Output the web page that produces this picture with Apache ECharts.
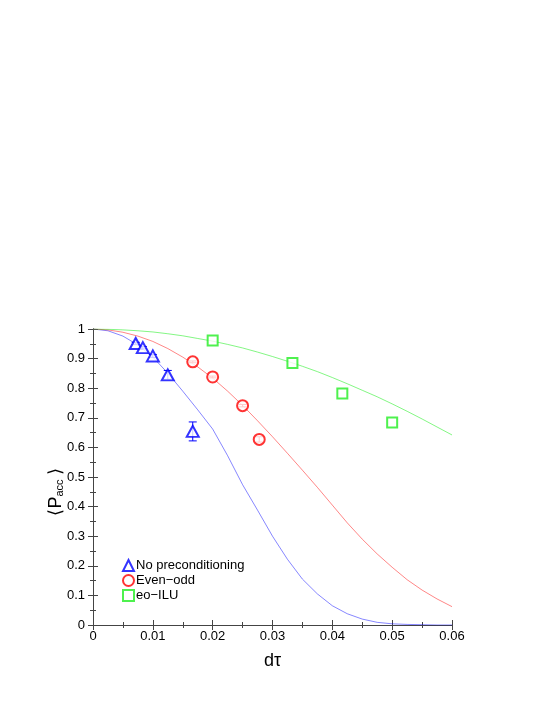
<!DOCTYPE html>
<html>
<head>
<meta charset="utf-8">
<script src="https://cdn.jsdelivr.net/npm/echarts@6/dist/echarts.min.js"></script>
<style>
html, body { margin: 0; padding: 0; background: #fff; }
#main { width: 545px; height: 705px; }
</style>
</head>
<body>
<div id="main"></div>
<script>
// measured points
var noPreX = [0.00714, 0.00833, 0.0100, 0.0125, 0.01667];
var noPreY = [0.951, 0.937, 0.909, 0.845, 0.654];
var noPreErr = [0.004, 0.004, 0.005, 0.015, 0.032];

var evenOddX = [0.01667, 0.0200, 0.0250, 0.02778];
var evenOddY = [0.889, 0.838, 0.741, 0.627];
var evenOddErr = [0.003, 0.003, 0.004, 0.009];

var iluX = [0.0200, 0.03333, 0.04167, 0.0500];
var iluY = [0.961, 0.885, 0.782, 0.684];

// fitted curves
var curveX = [0, 0.0025, 0.005, 0.0075, 0.01, 0.0125, 0.015, 0.0175, 0.02, 0.0225, 0.025, 0.0275,
              0.03, 0.0325, 0.035, 0.0375, 0.04, 0.0425, 0.045, 0.0475, 0.05, 0.0525, 0.055, 0.0575, 0.06];
var noPreCurve = [1, 0.994, 0.976, 0.946, 0.905, 0.851, 0.790, 0.727, 0.662, 0.572, 0.474, 0.388,
                  0.300, 0.222, 0.155, 0.105, 0.065, 0.038, 0.020, 0.009, 0.004, 0.002, 0.001, 0, 0];
var evenOddCurve = [1, 0.997, 0.989, 0.976, 0.958, 0.934, 0.905, 0.872, 0.834, 0.790, 0.742, 0.690,
                    0.636, 0.580, 0.523, 0.465, 0.405, 0.345, 0.290, 0.240, 0.195, 0.153, 0.118, 0.088, 0.062];
var iluCurve = [1, 0.999, 0.997, 0.994, 0.990, 0.984, 0.977, 0.968, 0.959, 0.948, 0.936, 0.922,
                0.907, 0.891, 0.874, 0.856, 0.836, 0.815, 0.793, 0.771, 0.747, 0.722, 0.696, 0.669, 0.642];

var names = ['No preconditioning', 'Even\u2212odd', 'eo\u2212ILU'];
var colors = ['#0000ff', '#ff0000', '#22ee22'];
var font = 'Liberation Sans, Arial, Helvetica, sans-serif';

function pairs(xs, ys) {
    var out = [];
    for (var i = 0; i < xs.length; i++) out.push([xs[i], ys[i]]);
    return out;
}
function errs(xs, ys, es) {
    var out = [];
    for (var i = 0; i < xs.length; i++) out.push([xs[i], ys[i] - es[i], ys[i] + es[i]]);
    return out;
}
function errorBar(color) {
    return function (params, api) {
        var lo = api.coord([api.value(0), api.value(1)]);
        var hi = api.coord([api.value(0), api.value(2)]);
        var w = 4;
        var st = { stroke: color, lineWidth: 1 };
        return {
            type: 'group',
            children: [
                { type: 'line', shape: { x1: lo[0], y1: lo[1], x2: hi[0], y2: hi[1] }, style: st },
                { type: 'line', shape: { x1: lo[0] - w, y1: lo[1], x2: lo[0] + w, y2: lo[1] }, style: st },
                { type: 'line', shape: { x1: hi[0] - w, y1: hi[1], x2: hi[0] + w, y2: hi[1] }, style: st }
            ]
        };
    };
}

var myChart = echarts.init(document.getElementById('main'));

var axisLine = { lineStyle: { color: '#444', width: 1 } };
var tick = { show: true, inside: true, length: 5, lineStyle: { color: '#444' } };
var minor = { show: true, splitNumber: 2, length: 3, lineStyle: { color: '#444' } };

var option = {
    backgroundColor: '#fff',
    animation: false,
    textStyle: { fontFamily: font },
    grid: { left: 93, right: 93, top: 329, bottom: 80 },
    legend: {
        orient: 'vertical',
        left: 117,
        top: 554,
        itemWidth: 11,
        itemHeight: 11,
        itemGap: 2,
        textStyle: { fontSize: 13, color: '#000', fontFamily: font, padding: [0, 0, 0, -3] },
        data: names
    },
    xAxis: [
        {
            type: 'value', min: 0, max: 0.06, interval: 0.01,
            axisLine: axisLine, axisTick: tick, minorTick: minor,
            splitLine: { show: false },
            axisLabel: {
                fontSize: 13, color: '#000', margin: 5, fontFamily: font,
                formatter: function (v) { return v === 0 ? '0' : v.toFixed(2); }
            },
            name: 'd\u03c4', nameLocation: 'middle', nameGap: 27,
            nameTextStyle: { fontSize: 18, color: '#000', fontFamily: font }
        },
        {
            type: 'value', position: 'top', min: 0, max: 0.06, interval: 0.01,
            axisLine: axisLine, axisTick: tick, minorTick: minor,
            splitLine: { show: false }, axisLabel: { show: false }
        }
    ],
    yAxis: [
        {
            type: 'value', min: 0, max: 1, interval: 0.1,
            axisLine: axisLine, axisTick: tick, minorTick: minor,
            splitLine: { show: false },
            axisLabel: {
                fontSize: 13, color: '#000', margin: 8, fontFamily: font,
                formatter: function (v) { return String(Math.round(v * 10) / 10); }
            }
        },
        {
            type: 'value', position: 'right', min: 0, max: 1, interval: 0.1,
            axisLine: axisLine, axisTick: tick, minorTick: minor,
            splitLine: { show: false }, axisLabel: { show: false }
        }
    ],
    graphic: [
        {
            type: 'text',
            x: 56, y: 492,
            rotation: Math.PI / 2,
            style: {
                text: '\u27e8P{s|acc}\u27e9',
                fill: '#000',
                font: '18px ' + font,
                align: 'center',
                verticalAlign: 'middle',
                rich: { s: { fontSize: 11, fontFamily: font, verticalAlign: 'bottom', padding: [8, 4, 0, 0] } }
            }
        }
    ],
    series: [
        {
            name: 'curve0', type: 'line', data: pairs(curveX, noPreCurve), showSymbol: false,
            lineStyle: { color: colors[0], width: 0.8, opacity: 0.6 }, z: 1, silent: true
        },
        {
            name: 'curve1', type: 'line', data: pairs(curveX, evenOddCurve), showSymbol: false,
            lineStyle: { color: colors[1], width: 0.8, opacity: 0.6 }, z: 1, silent: true
        },
        {
            name: 'curve2', type: 'line', data: pairs(curveX, iluCurve), showSymbol: false,
            lineStyle: { color: colors[2], width: 0.8, opacity: 0.7 }, z: 1, silent: true
        },
        {
            type: 'custom', data: errs(noPreX, noPreY, noPreErr),
            renderItem: errorBar(colors[0]), z: 2, silent: true
        },
        {
            type: 'custom', data: errs(evenOddX, evenOddY, evenOddErr),
            renderItem: errorBar(colors[1]), z: 2, silent: true
        },
        {
            name: names[0], type: 'scatter', data: pairs(noPreX, noPreY),
            symbol: 'emptyTriangle', symbolSize: [12, 11],
            itemStyle: { color: colors[0], borderColor: colors[0], borderWidth: 1.2 }, z: 3
        },
        {
            name: names[1], type: 'scatter', data: pairs(evenOddX, evenOddY),
            symbol: 'emptyCircle', symbolSize: 11,
            itemStyle: { color: colors[1], borderColor: colors[1], borderWidth: 1.2 }, z: 3
        },
        {
            name: names[2], type: 'scatter', data: pairs(iluX, iluY),
            symbol: 'emptyRect', symbolSize: 10,
            itemStyle: { color: colors[2], borderColor: colors[2], borderWidth: 1.2 }, z: 3
        }
    ]
};
myChart.setOption(option);
</script>
</body>
</html>
